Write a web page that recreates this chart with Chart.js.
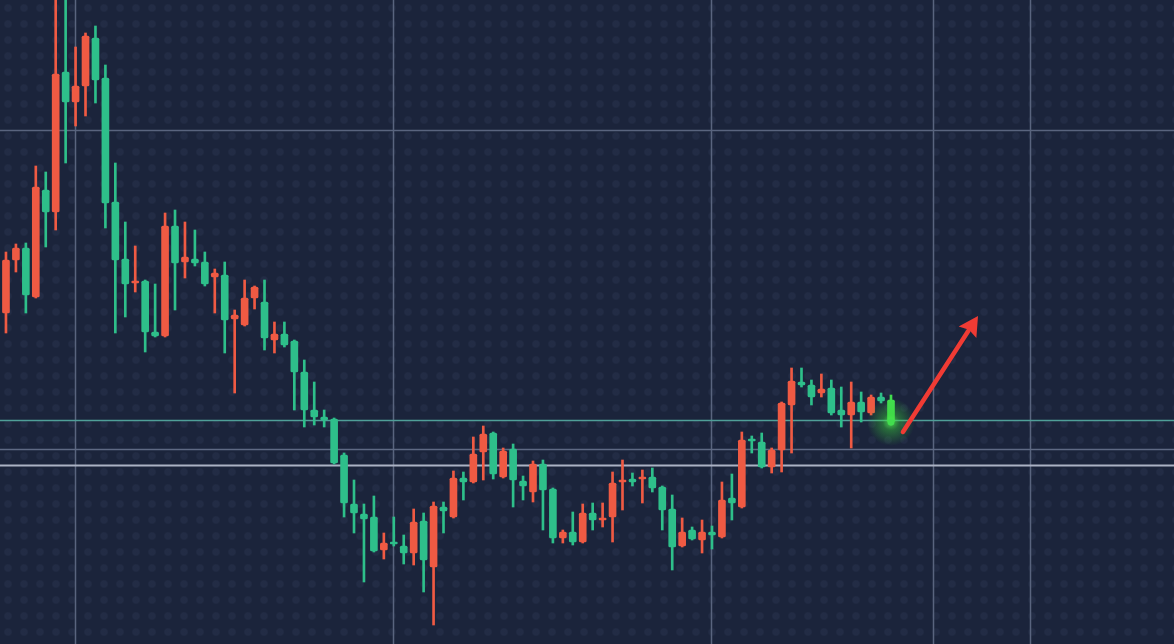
<!DOCTYPE html>
<html>
<head>
<meta charset="utf-8">
<script src="https://cdn.jsdelivr.net/npm/chart.js@4.4.1/dist/chart.umd.min.js"></script>
<style>
    html, body {
        margin: 0;
        padding: 0;
        background: #1b243b;
    }
    .chart-box {
        width: 1174px;
        height: 644px;
        position: relative;
        background-color: #1b243b;
        background-image: radial-gradient(circle, rgba(120, 140, 190, 0.08) 3px, transparent 4.5px);
        background-size: 16px 16px;
    }
</style>
</head>
<body>
<div class="chart-box">
    <canvas id="myChart"></canvas>
</div>
<script>
// candle values (arbitrary price units)
const open_values = [
    53.1, 58.4, 59.6, 54.7, 65.4, 63.2, 77.2, 74.2, 75.8, 80.6,
    76.6, 64.2, 58.5, 56.1, 56.3, 51.2, 50.8, 61.8, 58.2, 58.5,
    58.2, 56.7, 56.9, 52.5, 51.9, 54.6, 54.2, 50.4, 51.0, 50.3,
    47.2, 43.4, 42.7, 42.5, 38.9, 34.0, 33.0, 32.7, 29.4, 30.2,
    29.8, 29.1, 32.3, 27.7, 33.7, 32.7, 36.6, 36.2, 39.2, 41.1,
    36.7, 39.5, 36.3, 35.2, 38.0, 35.5, 30.6, 31.2, 30.2, 33.1,
    32.4, 32.7, 36.2, 36.5, 36.5, 36.7, 35.7, 33.5, 29.8, 31.4,
    30.4, 31.2, 30.7, 34.6, 33.7, 40.5, 40.2, 37.7, 39.4, 43.9,
    46.2, 45.9, 45.1, 45.6, 43.4, 42.9, 44.2, 43.1, 44.7, 44.4
];
const high_values = [
    59.2, 60.0, 60.1, 67.8, 67.2, 86.4, 85.4, 79.7, 81.1, 81.8,
    77.9, 68.1, 62.2, 59.8, 56.4, 56.0, 63.1, 63.4, 62.2, 61.4,
    59.2, 57.5, 58.2, 53.4, 56.4, 55.8, 56.4, 52.2, 52.2, 50.4,
    48.4, 46.2, 43.4, 42.6, 39.1, 36.4, 34.0, 34.8, 31.1, 32.7,
    30.9, 33.5, 33.1, 34.2, 34.2, 37.3, 37.2, 40.7, 41.8, 41.2,
    39.6, 40.0, 36.8, 38.3, 38.4, 35.6, 31.4, 33.2, 34.0, 34.1,
    34.1, 37.2, 38.4, 37.1, 37.4, 37.6, 35.8, 34.9, 32.6, 31.7,
    32.4, 31.8, 36.2, 37.0, 41.2, 40.8, 41.1, 39.6, 44.2, 47.6,
    47.6, 46.4, 47.0, 46.4, 45.7, 46.2, 45.2, 44.9, 45.1, 44.9
];
const low_values = [
    51.1, 57.2, 53.1, 54.6, 59.7, 61.4, 68.1, 71.8, 72.8, 74.1,
    61.6, 51.1, 52.7, 55.2, 49.2, 50.7, 50.7, 53.4, 56.6, 57.8,
    55.8, 53.1, 49.1, 45.1, 51.8, 53.5, 49.4, 49.1, 49.7, 43.4,
    41.7, 41.9, 41.7, 38.0, 32.7, 31.1, 26.2, 29.2, 28.5, 29.8,
    28.0, 27.9, 25.2, 21.9, 31.1, 32.6, 34.4, 36.1, 36.4, 36.5,
    36.6, 33.7, 34.4, 34.2, 31.4, 30.1, 30.1, 29.9, 30.1, 31.4,
    31.7, 30.2, 33.4, 35.8, 34.1, 35.2, 31.4, 27.4, 29.7, 30.4,
    29.1, 29.5, 30.6, 32.4, 33.6, 39.1, 37.6, 37.1, 37.2, 39.1,
    45.7, 43.9, 44.7, 42.9, 41.7, 39.6, 42.2, 42.9, 44.1, 41.9
];
const close_values = [
    58.4, 59.6, 54.9, 65.7, 63.2, 77.0, 74.2, 75.8, 80.8, 76.4,
    64.1, 58.4, 56.0, 56.3, 51.2, 50.8, 61.8, 58.1, 58.7, 58.1,
    56.0, 57.1, 52.4, 52.9, 54.6, 55.7, 50.6, 51.0, 49.9, 47.2,
    43.4, 42.7, 42.4, 38.1, 34.1, 33.1, 32.5, 29.3, 30.1, 30.0,
    29.1, 32.2, 28.4, 33.8, 33.3, 36.6, 36.2, 39.0, 41.0, 37.0,
    39.3, 36.4, 35.8, 38.0, 35.4, 30.6, 31.2, 30.2, 33.1, 32.4,
    32.6, 36.1, 36.4, 36.2, 36.7, 35.6, 33.4, 29.7, 31.2, 30.5,
    31.2, 30.9, 34.4, 34.1, 40.4, 40.3, 37.7, 39.4, 44.1, 46.3,
    45.9, 44.7, 45.5, 43.1, 42.9, 44.2, 43.2, 44.7, 44.3, 42.2
];

// vertical grid positions (candle index units) and horizontal level lines (price units)
const grid_x = [6.94, 38.92, 70.90, 93.22, 102.98];
const grid_y = [71.4];
const level_lines = [42.4, 39.5, 37.9];
const level_colors = ['#4f9f98', '#5e6983', '#abb2c4'];

// trend arrow: [index, price] from -> to
const arrow_from = [90.2, 41.2];
const arrow_to = [97.75, 52.8];

const up_color = '#ef5a43';
const down_color = '#2ebf8a';
const last_color = '#42de4e';

const candle_count = open_values.length;

const body_data = [];
const wick_data = [];
const candle_colors = [];
for (let i = 0; i < candle_count; i++) {
    body_data.push({ x: i, y: [open_values[i], close_values[i]] });
    wick_data.push({ x: i, y: [low_values[i], high_values[i]] });
    let c = close_values[i] >= open_values[i] ? up_color : down_color;
    if (i === candle_count - 1) c = last_color;
    candle_colors.push(c);
}

const linesPlugin = {
    id: 'lines',
    beforeDatasetsDraw(chart) {
        const { ctx, chartArea, scales } = chart;
        ctx.save();
        ctx.lineWidth = 1.5;
        ctx.strokeStyle = '#59647e';
        grid_x.forEach(v => {
            const px = Math.round(scales.x.getPixelForValue(v)) + 0.5;
            ctx.beginPath();
            ctx.moveTo(px, chartArea.top);
            ctx.lineTo(px, chartArea.bottom);
            ctx.stroke();
        });
        grid_y.forEach(v => {
            const py = Math.round(scales.y.getPixelForValue(v)) + 0.5;
            ctx.beginPath();
            ctx.moveTo(chartArea.left, py);
            ctx.lineTo(chartArea.right, py);
            ctx.stroke();
        });
        level_lines.forEach((v, k) => {
            const py = Math.round(scales.y.getPixelForValue(v)) + 0.5;
            ctx.strokeStyle = level_colors[k];
            ctx.lineWidth = k === 2 ? 2 : 1.5;
            ctx.beginPath();
            ctx.moveTo(chartArea.left, py);
            ctx.lineTo(chartArea.right, py);
            ctx.stroke();
        });
        ctx.restore();
    },
    afterDatasetsDraw(chart) {
        const { ctx, scales } = chart;
        ctx.save();

        // glow around the last candle
        const last = candle_count - 1;
        const gx = scales.x.getPixelForValue(last);
        const gy = scales.y.getPixelForValue(close_values[last]);
        const glow = ctx.createRadialGradient(gx, gy, 0, gx, gy, 24);
        glow.addColorStop(0, 'rgba(80, 240, 80, 0.85)');
        glow.addColorStop(0.35, 'rgba(60, 215, 60, 0.4)');
        glow.addColorStop(1, 'rgba(60, 210, 60, 0)');
        ctx.fillStyle = glow;
        ctx.beginPath();
        ctx.arc(gx, gy, 24, 0, Math.PI * 2);
        ctx.fill();
        ctx.fillStyle = last_color;
        ctx.beginPath();
        ctx.arc(gx, gy, 3.5, 0, Math.PI * 2);
        ctx.fill();

        // red arrow
        const x1 = scales.x.getPixelForValue(arrow_from[0]);
        const y1 = scales.y.getPixelForValue(arrow_from[1]);
        const x2 = scales.x.getPixelForValue(arrow_to[0]);
        const y2 = scales.y.getPixelForValue(arrow_to[1]);
        const ang = Math.atan2(y2 - y1, x2 - x1);
        const head = 22;
        ctx.strokeStyle = '#f03b34';
        ctx.fillStyle = '#f03b34';
        ctx.lineWidth = 4.5;
        ctx.lineCap = 'round';
        ctx.beginPath();
        ctx.moveTo(x1, y1);
        ctx.lineTo(x2 - Math.cos(ang) * head * 0.8, y2 - Math.sin(ang) * head * 0.8);
        ctx.stroke();
        ctx.beginPath();
        ctx.moveTo(x2, y2);
        ctx.lineTo(x2 - head * Math.cos(ang - 0.5), y2 - head * Math.sin(ang - 0.5));
        ctx.lineTo(x2 - head * 0.75 * Math.cos(ang), y2 - head * 0.75 * Math.sin(ang));
        ctx.lineTo(x2 - head * Math.cos(ang + 0.5), y2 - head * Math.sin(ang + 0.5));
        ctx.closePath();
        ctx.fill();
        ctx.restore();
    }
};

const config = {
    type: 'bar',
    data: {
        datasets: [
            {
                label: 'Wick',
                data: wick_data,
                backgroundColor: candle_colors,
                barThickness: 2,
                grouped: false,
                order: 2
            },
            {
                label: 'Body',
                data: body_data,
                backgroundColor: candle_colors,
                barThickness: 7,
                minBarLength: 2,
                borderRadius: 1.5,
                borderSkipped: false,
                grouped: false,
                order: 1
            }
        ]
    },
    options: {
        responsive: true,
        maintainAspectRatio: false,
        animation: false,
        layout: { padding: 0 },
        scales: {
            x: {
                type: 'linear',
                display: false,
                min: -0.6,
                max: 117.46,
                offset: false
            },
            y: {
                display: false,
                min: 20,
                max: 84.4
            }
        },
        plugins: {
            legend: { display: false },
            tooltip: { enabled: false }
        }
    },
    plugins: [linesPlugin]
};

const ctx = document.getElementById('myChart').getContext('2d');
const myChart = new Chart(ctx, config);
</script>
</body>
</html>
